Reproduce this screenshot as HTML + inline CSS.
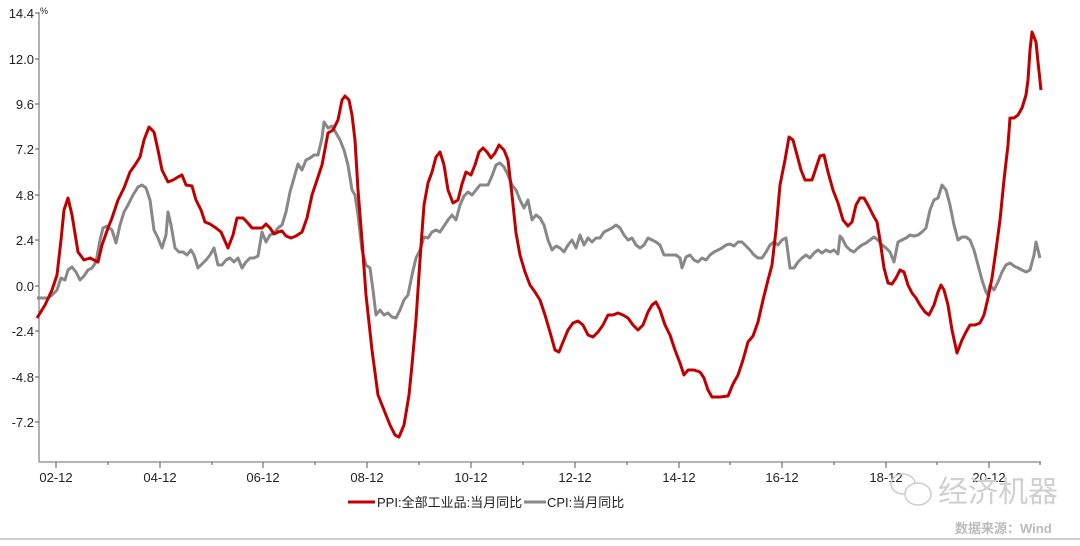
<!DOCTYPE html>
<html><head><meta charset="utf-8"><style>
body{margin:0;background:#fff;}
svg text{font-family:"Liberation Sans","Noto Sans CJK SC",sans-serif;}
</style></head><body>
<svg width="1080" height="541" xmlns="http://www.w3.org/2000/svg">
<rect width="1080" height="541" fill="#fff"/>
<g stroke="#888" stroke-width="1.3" fill="none">
<line x1="39" y1="12" x2="39" y2="462"/>
<line x1="39" y1="462" x2="1041" y2="462"/>
</g>
<g stroke="#555" stroke-width="1">
<line x1="35" y1="13" x2="39" y2="13"/><line x1="35" y1="59" x2="39" y2="59"/><line x1="35" y1="104" x2="39" y2="104"/><line x1="35" y1="149" x2="39" y2="149"/><line x1="35" y1="195" x2="39" y2="195"/><line x1="35" y1="240" x2="39" y2="240"/><line x1="35" y1="286" x2="39" y2="286"/><line x1="35" y1="331" x2="39" y2="331"/><line x1="35" y1="377" x2="39" y2="377"/><line x1="35" y1="422" x2="39" y2="422"/>
<line x1="56" y1="462" x2="56" y2="468"/><line x1="160" y1="462" x2="160" y2="468"/><line x1="263" y1="462" x2="263" y2="468"/><line x1="367" y1="462" x2="367" y2="468"/><line x1="471" y1="462" x2="471" y2="468"/><line x1="575" y1="462" x2="575" y2="468"/><line x1="679" y1="462" x2="679" y2="468"/><line x1="782" y1="462" x2="782" y2="468"/><line x1="886" y1="462" x2="886" y2="468"/><line x1="989" y1="462" x2="989" y2="468"/>
<line x1="108" y1="462" x2="108" y2="465"/><line x1="212" y1="462" x2="212" y2="465"/><line x1="315" y1="462" x2="315" y2="465"/><line x1="419" y1="462" x2="419" y2="465"/><line x1="523" y1="462" x2="523" y2="465"/><line x1="627" y1="462" x2="627" y2="465"/><line x1="730" y1="462" x2="730" y2="465"/><line x1="834" y1="462" x2="834" y2="465"/><line x1="937" y1="462" x2="937" y2="465"/><line x1="1040" y1="462" x2="1040" y2="465"/>
</g>
<g font-size="13" fill="#222" text-anchor="end">
<text x="34" y="18">14.4</text><text x="34" y="64">12.0</text><text x="34" y="109">9.6</text><text x="34" y="154">7.2</text><text x="34" y="200">4.8</text><text x="34" y="245">2.4</text><text x="34" y="291">0.0</text><text x="34" y="336">-2.4</text><text x="34" y="382">-4.8</text><text x="34" y="427">-7.2</text>
</g>
<text x="40" y="14" font-size="9" fill="#222">%</text>
<g font-size="13" fill="#222" text-anchor="middle">
<text x="56" y="482">02-12</text><text x="160" y="482">04-12</text><text x="263" y="482">06-12</text><text x="367" y="482">08-12</text><text x="471" y="482">10-12</text><text x="575" y="482">12-12</text><text x="679" y="482">14-12</text><text x="782" y="482">16-12</text><text x="886" y="482">18-12</text><text x="989" y="482">20-12</text>
</g>
<polyline fill="none" stroke="#888" stroke-width="3" stroke-linejoin="round" points="37,298 43,298 48,298 52,295 57,290 61,278 65,280 68,270 72,267 76,272 80,280 84,276 88,270 92,268 96,262 100,240 103,228 107,226 112,230 116,243 120,225 124,212 128,205 133,195 138,187 142,185 146,188 150,200 154,230 158,238 162,248 166,235 168,212 171,225 175,248 179,252 183,252 187,255 191,250 194,255 198,268 202,264 206,260 210,255 214,248 218,265 222,265 226,260 230,258 234,262 238,258 242,268 246,262 250,258 254,258 258,256 262,232 266,242 270,235 274,233 278,228 282,225 286,212 290,192 294,178 298,164 302,170 306,160 310,158 314,155 318,155 322,138 324,122 328,128 332,126 336,133 340,140 344,150 348,165 352,190 355,195 358,215 362,250 366,265 370,268 373,290 376,315 380,310 384,315 388,313 392,317 396,318 400,310 404,300 408,295 412,275 416,258 420,250 424,237 428,238 432,232 436,230 440,232 444,226 448,220 452,215 456,220 460,205 464,196 468,192 472,195 476,190 480,185 484,185 488,185 492,176 496,165 500,163 504,167 508,175 512,185 516,190 520,200 524,208 528,200 532,220 536,215 540,218 544,225 548,240 552,250 556,246 560,248 564,252 568,245 572,240 576,248 580,235 584,245 588,238 592,242 596,238 600,238 604,232 608,230 612,228 616,225 620,228 624,235 628,240 632,238 636,245 640,248 644,245 648,238 652,240 656,242 660,245 664,255 668,255 672,255 676,255 680,258 682,268 686,257 690,255 694,260 698,262 702,258 706,260 710,255 714,252 718,250 722,248 726,245 730,244 734,246 738,242 742,242 746,246 750,250 754,255 758,258 762,258 766,252 770,245 774,242 778,245 782,240 786,238 790,268 794,268 798,262 802,258 806,255 810,258 814,253 818,250 822,253 826,250 830,252 834,250 838,254 840,236 842,238 846,246 850,250 854,252 858,248 862,245 866,243 870,240 874,237 878,240 882,245 886,248 890,252 894,262 898,242 902,240 906,238 910,235 914,236 918,235 922,232 926,228 930,210 934,200 938,198 942,185 946,190 950,205 954,225 958,240 962,237 966,237 970,240 974,250 978,265 982,280 986,292 988,295 990,285 994,290 998,282 1002,272 1006,265 1010,263 1014,266 1018,268 1022,270 1026,272 1030,270 1034,255 1036,242 1040,258"/>
<polyline fill="none" stroke="#c00000" stroke-width="3" stroke-linejoin="round" points="37,318 45,305 52,290 57,275 61,240 64,210 68,198 72,215 78,252 84,260 90,258 98,262 102,245 108,228 112,218 118,200 124,188 130,172 135,165 140,157 144,140 149,127 154,132 158,150 162,170 168,182 173,180 178,177 182,175 186,185 192,186 196,200 201,210 205,222 210,224 216,228 221,232 228,248 233,235 237,218 243,218 247,222 252,228 256,228 262,228 266,224 270,228 274,234 278,232 282,231 286,236 291,238 296,236 302,232 307,218 312,195 317,180 322,165 328,133 333,130 338,120 342,100 345,96 349,100 352,115 355,140 358,190 362,240 366,295 372,350 378,395 384,410 390,425 395,435 399,437 404,425 409,395 412,365 416,320 420,260 424,205 428,183 432,172 436,157 440,152 444,165 448,190 453,203 458,200 462,184 466,172 471,175 475,165 479,152 483,148 487,152 491,158 495,153 499,145 504,150 508,160 512,195 516,233 520,255 525,272 530,285 535,292 540,300 545,315 550,332 555,350 559,352 563,342 568,330 573,323 578,321 583,325 588,335 593,337 598,332 603,325 608,315 613,315 618,313 623,315 628,318 633,325 638,330 643,325 648,312 652,305 656,302 660,310 665,325 670,335 675,350 680,363 684,375 688,370 694,370 700,372 704,378 708,390 712,397 720,397 728,396 733,384 738,375 743,360 748,342 753,336 758,322 763,300 768,280 772,265 776,230 780,185 785,160 789,137 793,140 797,155 801,170 805,180 812,180 816,168 820,156 824,155 828,172 833,190 838,203 843,220 848,226 852,222 856,205 860,198 864,198 868,205 873,215 877,222 880,240 884,268 888,283 892,284 896,278 900,270 904,272 908,285 912,293 916,298 920,305 925,312 929,315 934,305 938,292 941,285 944,290 948,305 952,330 957,353 962,340 966,332 970,325 975,325 980,323 984,315 988,298 992,278 996,250 1000,220 1004,180 1008,145 1010,118 1014,118 1018,115 1022,108 1026,95 1028,80 1030,50 1032,32 1036,42 1038,62 1041,90"/>
<line x1="348" y1="502" x2="375" y2="502" stroke="#c00000" stroke-width="3"/>
<text x="377" y="507" font-size="13" fill="#222">PPI:全部工业品:当月同比</text>
<line x1="524" y1="502" x2="546" y2="502" stroke="#888" stroke-width="3"/>
<text x="547" y="507" font-size="13" fill="#222">CPI:当月同比</text>
<g fill="none" stroke="#ccc" stroke-width="1.5">
<ellipse cx="903" cy="484" rx="12" ry="10"/>
<ellipse cx="918" cy="494" rx="13" ry="11" fill="#fff"/>
</g>
<text x="938" y="502" font-size="30" fill="#d0d0d0">经济机器</text>
<text x="955" y="533" font-size="13" font-weight="bold" fill="#bbb">数据来源：Wind</text>
<line x1="0" y1="539" x2="1080" y2="539" stroke="#999" stroke-width="1"/>
</svg>
</body></html>
